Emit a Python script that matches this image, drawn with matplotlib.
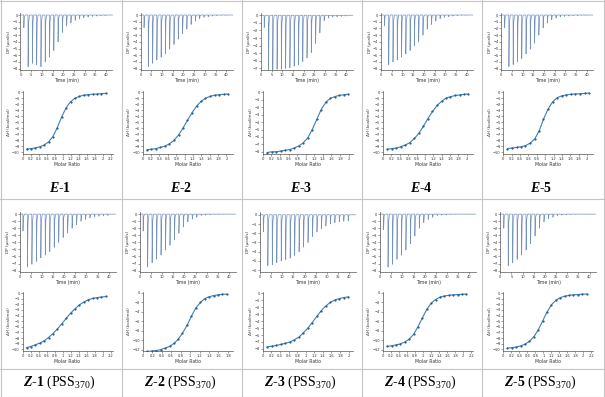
import matplotlib.pyplot as plt
from matplotlib.lines import Line2D

plt.rcParams['font.family'] = ['DejaVu Sans']
plt.rcParams['mathtext.fontset'] = 'custom'
plt.rcParams['mathtext.rm'] = 'Liberation Serif'
plt.rcParams['mathtext.it'] = 'Liberation Serif:italic'
plt.rcParams['mathtext.bf'] = 'Liberation Serif:bold'
plt.rcParams['mathtext.bfit'] = 'Liberation Serif:bold:italic'

W, H = 605, 397

# injection times (min)
inj_time = [1.5, 3.5, 5.5, 7.5, 9.5, 11.5, 13.5, 15.5, 17.5, 19.5,
            21.5, 23.5, 25.5, 27.5, 29.5, 31.5, 33.5, 35.5, 37.5, 39.5]

# peak depths (ucal/s) per sample
dp_E1 = [1.9, 7.7, 7.2, 7.4, 7.7, 7.0, 6.3, 5.3, 4.0, 2.6, 1.6, 1.2, 0.8, 0.6, 0.4, 0.3, 0.2, 0.15, 0.1, 0.1]
dp_E2 = [1.9, 7.7, 7.2, 6.7, 6.3, 5.8, 5.1, 4.4, 3.6, 2.8, 2.1, 1.4, 0.9, 0.55, 0.35, 0.25, 0.15, 0.1, 0.05, 0.05]
dp_E3 = [1.6, 7.2, 7.2, 7.1, 7.1, 7.0, 6.9, 6.7, 6.5, 6.1, 5.6, 4.9, 3.7, 2.3, 0.7, 0.35, 0.25, 0.2, 0.15, 0.1]
dp_E4 = [1.6, 7.4, 7.0, 6.7, 6.3, 5.8, 5.3, 4.6, 4.0, 3.0, 2.1, 1.4, 0.9, 0.55, 0.35, 0.25, 0.15, 0.1, 0.05, 0.05]
dp_E5 = [1.9, 7.7, 7.4, 7.0, 6.5, 5.8, 5.1, 4.2, 3.0, 1.9, 1.2, 0.7, 0.45, 0.3, 0.2, 0.15, 0.1, 0.1, 0.05, 0.05]
dp_Z1 = [2.4, 7.5, 7.1, 6.7, 6.2, 5.8, 5.3, 4.7, 4.0, 3.3, 2.7, 2.0, 1.5, 1.0, 0.75, 0.55, 0.4, 0.3, 0.25, 0.2]
dp_Z2 = [2.4, 7.5, 6.9, 6.4, 5.8, 5.1, 4.4, 3.6, 2.7, 1.8, 1.1, 0.7, 0.45, 0.2, 0.15, 0.1, 0.05, 0.05, 0.03, 0.03]
dp_Z3 = [1.85, 5.5, 5.4, 5.2, 5.0, 4.9, 4.7, 4.4, 4.0, 3.5, 3.0, 2.35, 1.85, 1.5, 1.2, 1.0, 0.85, 0.75, 0.7, 0.65]
dp_Z4 = [2.2, 7.5, 7.1, 6.4, 5.8, 5.1, 4.2, 3.1, 2.0, 1.2, 0.75, 0.45, 0.2, 0.15, 0.1, 0.05, 0.05, 0.03, 0.03, 0.03]
dp_Z5 = [2.0, 7.3, 6.9, 6.4, 5.8, 5.1, 4.2, 3.1, 2.0, 1.1, 0.65, 0.45, 0.2, 0.15, 0.1, 0.05, 0.05, 0.03, 0.03, 0.03]

# molar ratio grids
mr_a = [0.10, 0.21, 0.32, 0.43, 0.54, 0.65, 0.76, 0.87, 0.98, 1.09, 1.20, 1.31, 1.42, 1.53, 1.64, 1.75, 1.86, 1.97, 2.08]
mr_b = [0.10, 0.21, 0.31, 0.42, 0.52, 0.63, 0.73, 0.84, 0.94, 1.05, 1.15, 1.26, 1.36, 1.47, 1.57, 1.68, 1.78, 1.89, 1.99]
mr_c = [0.10, 0.21, 0.32, 0.42, 0.53, 0.64, 0.75, 0.86, 0.96, 1.07, 1.18, 1.29, 1.40, 1.50, 1.61, 1.72, 1.83, 1.94, 2.04]
mr_d = [0.10, 0.19, 0.29, 0.38, 0.47, 0.57, 0.66, 0.75, 0.84, 0.94, 1.03, 1.12, 1.22, 1.31, 1.40, 1.50, 1.59, 1.68, 1.77]

# integrated heats (kcal/mol)
dh_E1 = [-9.5, -9.4, -9.3, -9.1, -8.8, -8.3, -7.4, -5.9, -4.1, -2.6, -1.6, -1.0, -0.7, -0.5, -0.4, -0.35, -0.3, -0.25, -0.2]
dh_E2 = [-9.6, -9.5, -9.4, -9.2, -9.0, -8.6, -8.0, -7.1, -6.0, -4.7, -3.4, -2.3, -1.5, -1.0, -0.7, -0.5, -0.4, -0.35, -0.3]
dh_E3 = [-8.1, -8.0, -8.0, -7.9, -7.8, -7.7, -7.5, -7.2, -6.8, -6.1, -5.0, -3.6, -2.3, -1.3, -0.8, -0.55, -0.4, -0.3, -0.25]
dh_E4 = [-9.5, -9.4, -9.3, -9.1, -8.8, -8.4, -7.7, -6.8, -5.7, -4.4, -3.2, -2.2, -1.5, -1.0, -0.75, -0.55, -0.45, -0.35, -0.3]
dh_E5 = [-9.4, -9.3, -9.2, -9.1, -8.9, -8.5, -7.8, -6.4, -4.5, -2.8, -1.6, -0.9, -0.6, -0.45, -0.35, -0.3, -0.25, -0.2, -0.15]
dh_Z1 = [-9.7, -9.5, -9.2, -8.9, -8.5, -7.9, -7.2, -6.4, -5.5, -4.5, -3.6, -2.8, -2.1, -1.6, -1.2, -0.95, -0.8, -0.7, -0.6]
dh_Z2 = [-12.4, -12.3, -12.2, -12.0, -11.7, -11.3, -10.7, -9.8, -8.5, -6.8, -4.9, -3.2, -2.0, -1.2, -0.8, -0.55, -0.4, -0.3, -0.25]
dh_Z3 = [-7.7, -7.6, -7.5, -7.35, -7.2, -7.0, -6.7, -6.3, -5.7, -5.0, -4.2, -3.3, -2.5, -1.8, -1.3, -0.95, -0.75, -0.6, -0.5]
dh_Z4 = [-11.3, -11.2, -11.0, -10.8, -10.4, -9.8, -8.8, -7.2, -5.3, -3.5, -2.2, -1.4, -0.9, -0.65, -0.5, -0.4, -0.35, -0.3, -0.25]
dh_Z5 = [-9.8, -9.7, -9.6, -9.4, -9.1, -8.6, -7.8, -6.6, -5.0, -3.4, -2.1, -1.3, -0.8, -0.55, -0.4, -0.3, -0.25, -0.2, -0.15]

labels_top = [("E", "‐1"), ("E", "‐2"), ("E", "‐3"), ("E", "‐4"), ("E", "‐5")]
labels_bot = [("Z", "‐1"), ("Z", "‐2"), ("Z", "‐3"), ("Z", "‐4"), ("Z", "‐5")]

top = [
    (dp_E1, -8, mr_a, dh_E1, 2.2, -10),
    (dp_E2, -8, mr_c, dh_E2, 2.1, -10),
    (dp_E3, -7, mr_b, dh_E3, 2.05, -8),
    (dp_E4, -8, mr_c, dh_E4, 2.1, -10),
    (dp_E5, -8, mr_c, dh_E5, 2.1, -10),
]
bot = [
    (dp_Z1, -8, mr_a, dh_Z1, 2.2, -10),
    (dp_Z2, -8, mr_d, dh_Z2, 1.85, -12),
    (dp_Z3, -6, mr_b, dh_Z3, 2.05, -8),
    (dp_Z4, -8, mr_a, dh_Z4, 2.2, -12),
    (dp_Z5, -8, mr_a, dh_Z5, 2.2, -10),
]

trace_col = '#7592bf'
fit_col = '#3d80b8'
spine_col = '#555555'


def box(x0, y0, x1, y1):
    return [x0 / W, 1 - y1 / H, (x1 - x0) / W, (y1 - y0) / H]


def style(ax):
    for s in ['top', 'right']:
        ax.spines[s].set_visible(False)
    for s in ['left', 'bottom']:
        ax.spines[s].set_color(spine_col)
        ax.spines[s].set_linewidth(0.5)
    ax.tick_params(length=1.2, width=0.4, pad=0.8, labelsize=2.6,
                   colors=spine_col, labelcolor='#333333')


def thermogram(ax, depths, ymin):
    xs, ys = [0], [0]
    for t, d in zip(inj_time, depths):
        xs += [t, t + 0.06, t + 0.3, t + 0.7]
        ys += [0, -d, -0.15 * d, 0]
    xs.append(43)
    ys.append(0)
    ax.plot(xs, ys, color=trace_col, lw=0.5)
    ax.set_xlim(0, 43)
    ax.set_ylim(ymin - 0.2, 0.3)
    ax.set_xticks(range(0, 45, 5))
    ax.set_yticks(range(ymin, 1))
    ax.set_xlabel('Time (min)', fontsize=3.3, labelpad=0.8, color='#333333')
    ax.set_ylabel('DP (μcal/s)', fontsize=3.0, labelpad=1.0, color='#333333')
    style(ax)


def heats(ax, mr, dh, xmax, ymin):
    ax.plot(mr, dh, color=fit_col, lw=0.8)
    ax.plot(mr, dh, ls='none', marker='s', ms=0.6, color='#2f5f8f')
    ax.set_xlim(0, xmax + 0.05)
    ax.set_ylim(ymin - 0.3, 0.2)
    n = int(round(xmax / 0.2))
    ax.set_xticks([round(0.2 * k, 1) for k in range(n + 1)])
    ax.set_xticklabels([('%g' % round(0.2 * k, 1)) for k in range(n + 1)])
    step = 2 if ymin <= -12 else 1
    ax.set_yticks(range(ymin, 1, step))
    ax.set_xlabel('Molar Ratio', fontsize=3.3, labelpad=0.8, color='#333333')
    ax.set_ylabel('ΔH (kcal/mol)', fontsize=3.0, labelpad=1.0, color='#333333')
    style(ax)


fig = plt.figure(figsize=(6.05, 3.97), dpi=100)

col_left = [1.5, 121.7, 241.9, 362.1, 482.3]

for i, cl in enumerate(col_left):
    dp, dpmin, mr, dh, xmax, dhmin = top[i]
    ax = fig.add_axes(box(cl + 19, 13, cl + 111, 70))
    thermogram(ax, dp, dpmin)
    ax = fig.add_axes(box(cl + 21, 91, cl + 111, 154))
    heats(ax, mr, dh, xmax, dhmin)
    a, b = labels_top[i]
    fig.text((cl + 59) / W, 1 - 192 / H, r'$\mathbfit{%s}$$\mathbf{%s}$' % (a, b),
             fontsize=10, ha='center', va='baseline')

    dp, dpmin, mr, dh, xmax, dhmin = bot[i]
    ax = fig.add_axes(box(cl + 18, 212, cl + 114, 272))
    thermogram(ax, dp, dpmin)
    ax = fig.add_axes(box(cl + 21, 292, cl + 111, 351))
    heats(ax, mr, dh, xmax, dhmin)
    a, b = labels_bot[i]
    fig.text((cl + 58) / W, 1 - 386 / H,
             r'$\mathbfit{%s}$$\mathbf{%s}$ (PSS$_{370}$)' % (a, b),
             fontsize=10, ha='center', va='baseline', family='Liberation Serif')

# table grid lines
grid_col = '#c4c4c4'
for x in [1.0, 121.6, 241.8, 362.0, 482.2, 603.5]:
    fig.add_artist(Line2D([x / W, x / W], [0, 1], color=grid_col, lw=0.8))
for y in [0.5, 199, 369, 396.5]:
    fig.add_artist(Line2D([0, 1], [1 - y / H, 1 - y / H], color=grid_col, lw=0.8))

fig.savefig('out.png', dpi=100)
